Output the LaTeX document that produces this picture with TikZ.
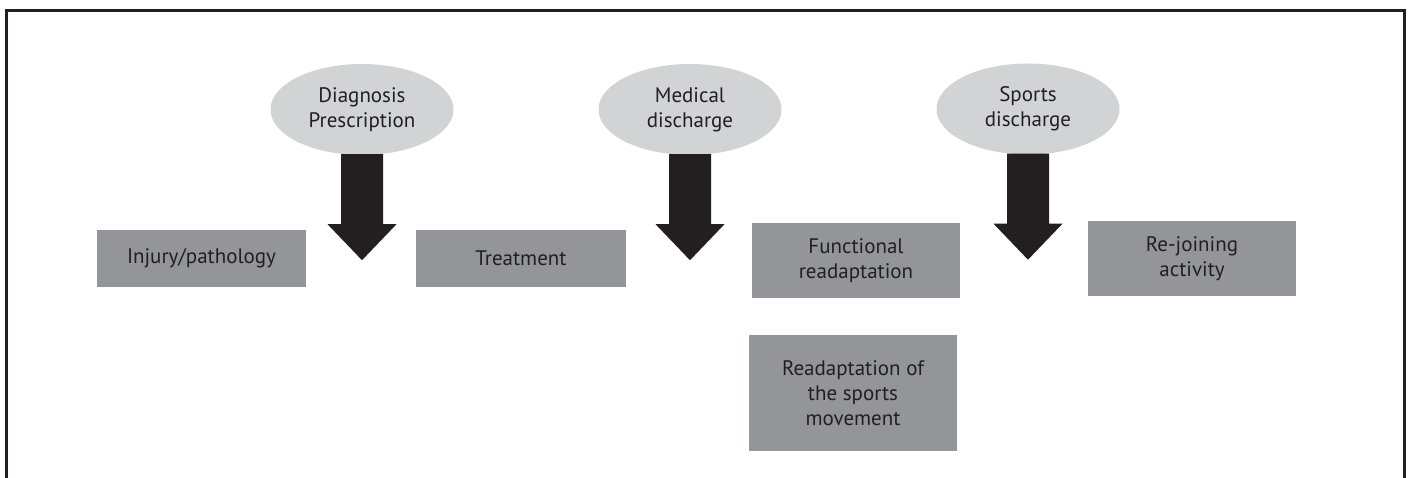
\documentclass[tikz,border=0pt]{standalone}
\usepackage{fontspec}
\setmainfont{PT Sans}
\usetikzlibrary{shapes.geometric}
\definecolor{ovalgray}{HTML}{D1D3D4}
\definecolor{boxgray}{HTML}{939598}
\definecolor{inkblack}{HTML}{231F20}
\newcommand{\bigdownarrow}[1]{%
  \fill[inkblack] ([xshift=-21pt,yshift=1pt]#1.south) -- ++(0,70) -- ++(-13.5,0)
    -- ++(34.5,36) -- ++(34.5,-36) -- ++(-13.5,0) -- ++(0,-70) -- cycle;}
\begin{document}
\begin{tikzpicture}[x=1pt,y=-1pt,
    oval/.style={ellipse,fill=ovalgray,inner sep=0pt,minimum width=183pt,
      minimum height=91pt,align=center,text=inkblack,
      font=\fontsize{21}{25}\selectfont},
    stage/.style={rectangle,fill=boxgray,inner sep=0pt,minimum width=208pt,
      align=center,text=inkblack,font=\fontsize{21}{25}\selectfont}]
    \useasboundingbox (0,0) rectangle (1409,478);
    \begin{scope}
      \clip (0,0) rectangle (1409,478);
      \draw[inkblack,line width=3pt] (6.5,490) -- (6.5,10.5) -- (1404.5,10.5) -- (1404.5,490);
    \end{scope}
    \node[oval] (diag) at (362,109.5) {Diagnosis\\Prescription};
    \node[oval] (meddis) at (690,109.5) {Medical\\discharge};
    \node[oval] (spdis) at (1028,109) {Sports\\discharge};
    \bigdownarrow{diag}
    \bigdownarrow{meddis}
    \bigdownarrow{spdis}
    \node[stage,minimum width=209pt,minimum height=57pt] (injury) at (201.5,258.5) {Injury/pathology};
    \node[stage,minimum width=210pt,minimum height=57pt] (treat) at (521,258.5) {Treatment};
    \node[stage,minimum height=75pt] (funct) at (856,260.5) {Functional\\readaptation};
    \node[stage,minimum height=75pt] (rejoin) at (1192,258.5) {Re-joining\\activity};
    \node[stage,minimum height=116pt] (readapt) at (853,393) {Readaptation of\\the sports\\movement};
\end{tikzpicture}
\end{document}
